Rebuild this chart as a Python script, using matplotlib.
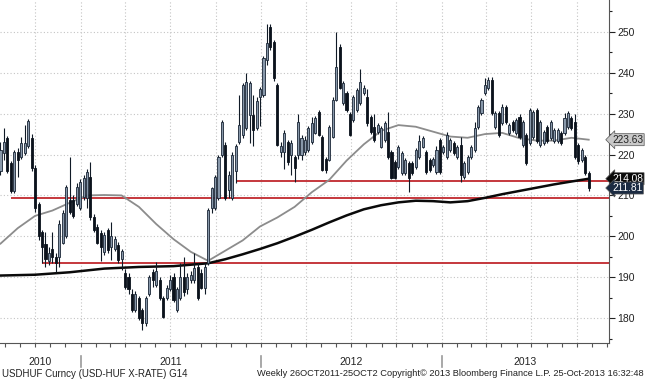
import numpy as np
import pandas as pd
import matplotlib
matplotlib.use("Agg")
import matplotlib.pyplot as plt
import matplotlib.dates as mdates
import matplotlib.transforms as mtransforms
from matplotlib.lines import Line2D

# =========================
# Weekly USDHUF candles
# =========================
first_week = "2010-07-23"

opens = [216, 220.4, 224, 218, 211, 220.6, 219.4, 220.4, 222, 224,
         216.7, 208, 201, 198, 194, 197, 195, 195, 198.4, 200,
         209, 209, 208, 207, 209.7, 209.4, 214.5, 204.7, 202.3, 200.8,
         196.2, 201.5, 197.4, 197, 197.9, 194.5, 191, 190, 186, 182,
         185, 182, 178.8, 186, 191.3, 188, 189.3, 185, 185, 187,
         190, 182, 185, 190, 187, 189.3, 189.3, 192.5, 191, 187.4,
         193.5, 206.9, 207, 209.4, 220, 222.4, 211.3, 209.4, 216, 223,
         224.8, 226.5, 229.7, 229.7, 226.5, 234, 234.6, 243.2, 251.2, 247.6,
         237, 220.6, 220.6, 223, 220, 219.4, 220, 220, 220.6, 221.1,
         223, 225.3, 230.4, 224.3, 219, 218.7, 224.3, 233.4, 246.3, 232.6,
         235, 230, 228.5, 231, 232.6, 235, 234, 229.2, 226.8, 225.5,
         221.9, 223.6, 225.5, 220.6, 218.2, 217, 215.5, 215.5, 218, 218,
         217, 219.5, 221.9, 220.7, 218.7, 217.4, 215.8, 223.6, 220.6, 219.5,
         221.1, 222.8, 219.5, 222.3, 214.6, 215.8, 219.5, 221.1, 226.8, 230.1,
         235, 236.2, 238.3, 226.8, 230.1, 227.7, 231.7, 225.2, 228, 225.2,
         229.3, 222.3, 224.8, 222.8, 224.4, 230.9, 222.3, 222.8, 226.8, 224,
         223.2, 223.2, 225.2, 225.2, 226.8, 228.9, 228, 222.3, 218.7, 219.5,
         215.5]
closes = [221, 223, 216, 211, 220.6, 218.7, 222.8, 222.8, 228.3, 216.7,
          207, 200, 197.5, 194.5, 196, 195, 193.5, 203, 205.7, 212,
          206, 205, 212, 213.3, 214.3, 215.8, 204.7, 201.5, 198.4, 197.4,
          200.3, 196.7, 200, 199.3, 194.2, 196.5, 187.6, 187, 182, 186,
          180, 178.8, 185, 190, 189.3, 191.5, 185, 180.3, 187.4, 189.3,
          184.5, 187, 190, 186.4, 190, 190.6, 192.2, 185, 187.4, 192.5,
          206.5, 211.8, 214.5, 219.5, 228, 209.4, 215, 220, 222, 227.3,
          237, 237.8, 237.5, 226, 233, 236, 243.6, 247.3, 246.3, 238.7,
          222.4, 222, 225.3, 218.2, 222.8, 216.7, 228, 224, 223.6, 226.5,
          227.7, 229, 224.8, 216.2, 216.2, 226.8, 233.4, 241.4, 236.3, 237.5,
          231, 224.8, 234, 235.8, 237.8, 236.3, 227.7, 225.5, 223.6, 227.3,
          226.5, 227.7, 219.4, 214.3, 214.3, 221.9, 220.4, 218.7, 214.3, 215.5,
          221, 223.2, 224, 215.8, 216.2, 219, 221.1, 215.8, 221.9, 224.8,
          223.6, 220.3, 221.9, 215, 217.9, 219.5, 221.9, 226.4, 231.7, 233.4,
          237, 238.3, 230.1, 230.1, 224.8, 231.7, 228, 227.2, 226, 228.5,
          224.4, 228, 217.9, 230.9, 230.5, 223.2, 228, 225.6, 223.2, 228,
          226, 226, 222.8, 228.9, 230.1, 226.4, 219.5, 218.3, 221.1, 215.5,
          211.81]
highs = [223, 226.5, 224.5, 218.5, 221, 221.5, 224.3, 227.2, 228.8, 225,
         217.5, 208.5, 201.5, 201, 197.5, 201, 196, 204, 206.5, 212.5,
         219.5, 210, 213, 214, 215, 216.5, 218.2, 205.5, 203, 201.5,
         201, 202, 203.6, 200, 198.5, 197, 192, 191, 187, 186.5,
         185.5, 182.5, 185.5, 190.5, 192, 193.8, 190, 185.5, 188, 190.5,
         191, 187.5, 193.4, 195, 191, 191.5, 195.8, 193.5, 192, 193.5,
         207, 212, 215, 220, 228.5, 223, 216, 220.5, 222.5, 234.5,
         237.5, 240, 238, 234.5, 234, 236.5, 244, 252, 252, 248,
         237.5, 223, 226, 223.5, 223.5, 220, 230, 224.8, 224.5, 227,
         229.2, 229.5, 231, 224.8, 219.5, 227.3, 234, 250, 247, 238,
         235.5, 230.5, 234.5, 236.3, 241, 237, 236, 229.7, 230, 227.8,
         227, 228.2, 230.4, 221, 218.7, 222.3, 220.8, 219.2, 218.5, 218.5,
         221.5, 224.8, 224.5, 221.2, 219.2, 219.5, 222.2, 224, 222.4, 225.5,
         224, 223.3, 222.4, 224.3, 218.4, 220, 222.4, 228, 232.2, 233.9,
         238.7, 239, 239, 230.6, 230.6, 232.4, 232.2, 227.7, 228.5, 229,
         229.8, 228.5, 225.3, 231.4, 231, 231.4, 228.5, 226.1, 227.3, 228.5,
         226.5, 226.5, 225.7, 230.1, 230.6, 229.4, 230, 222.8, 221.6, 220,
         216]
lows = [215, 218.7, 215.5, 210.5, 210.5, 214.5, 219, 220, 221.5, 216,
        206, 199, 193.5, 192.5, 193, 193.5, 191.3, 192.5, 198, 199.5,
        205.5, 204.5, 207.5, 206.5, 209, 207, 204, 201, 198, 194,
        195.5, 196, 194.2, 196.5, 193.5, 191.8, 187, 186, 181.5, 181.5,
        179.5, 177, 178, 185.5, 187.5, 187.5, 184.5, 180, 184.5, 186.5,
        184, 181.5, 184.5, 185.5, 186, 188.5, 188.5, 184.5, 187, 186,
        193, 205.7, 206.5, 209, 219.5, 209, 209.4, 209, 213, 222.5,
        224, 226, 222.7, 222, 226, 227, 234, 242, 245.5, 238,
        222, 219.5, 216.5, 217.5, 215, 213.3, 219, 218.7, 220, 220.5,
        222.5, 225, 224.5, 216, 215.5, 218.5, 224, 233, 236, 232,
        230.5, 224.5, 228, 230.5, 232, 234.5, 227, 225, 223, 225,
        221.5, 223, 219, 214, 214, 216.5, 215, 215, 210.8, 215,
        216.5, 219, 221.5, 215.3, 215.8, 217, 215.3, 215.3, 220.1, 219,
        220.6, 219.8, 219, 213.3, 214.1, 215.3, 219, 220.6, 226.3, 229.6,
        234.5, 235.7, 229.6, 226.3, 224.3, 227.2, 227.5, 224.7, 225.5, 224.7,
        223.9, 221.8, 217.4, 222.3, 223.9, 222.7, 221.8, 222.3, 222.7, 223.5,
        222.7, 222.7, 222.3, 224.7, 226.3, 225.9, 219, 217.8, 218.2, 215,
        211]

# moving averages, sampled every few weeks
ma_gray_weeks = [0, 5, 10, 15, 20, 25, 30, 35, 40, 45, 50, 55, 60, 65, 70, 75, 80, 85,
                 90, 95, 100, 105, 110, 115, 120, 125, 130, 135, 140, 145, 150, 155,
                 160, 165, 170]
ma_gray = [198.2, 202.0, 205.0, 206.3, 208.2, 210.0, 210.1, 210.0, 207.2, 203.0,
           199.3, 196.2, 194.0, 196.5, 199.0, 202.4, 204.6, 207.2, 210.8, 213.8,
           218.5, 222.5, 225.8, 227.2, 226.8, 225.6, 224.4, 224.1, 225.0, 225.3,
           224.0, 223.4, 223.4, 224.1, 223.63]
ma_black_weeks = [0, 10, 20, 30, 40, 50, 60, 65, 70, 75, 80, 85, 90, 95, 100, 105,
                  110, 115, 120, 125, 130, 135, 140, 145, 150, 155, 160, 165, 170]
ma_black = [190.4, 190.6, 191.2, 192.1, 192.5, 192.7, 193.4, 194.4, 195.6, 196.9,
            198.3, 199.9, 201.6, 203.4, 205.1, 206.6, 207.6, 208.3, 208.7, 208.6,
            208.3, 208.6, 209.4, 210.3, 211.1, 211.9, 212.7, 213.4, 214.08]

# horizontal support lines: level and the week they start
red_levels = [213.6, 209.3, 193.5]
red_start_week = [68, 3, 12]

year_labels = ["2010", "2011", "2012", "2013"]
footer_left = "USDHUF Curncy (USD-HUF X-RATE) G14"
footer_right = "Weekly 26OCT2011-25OCT2 Copyright\u00a9 2013 Bloomberg Finance L.P. 25-Oct-2013 16:32:48"

# =========================
# Figure
# =========================
plt.rcParams['font.family'] = ['Liberation Sans', 'DejaVu Sans']

dates = pd.date_range(first_week, periods=len(closes), freq="7D")
x = mdates.date2num(dates)
o = np.array(opens)
c = np.array(closes)
h = np.array(highs)
l = np.array(lows)

fig = plt.figure(figsize=(6.45, 3.81), dpi=100)
ax = fig.add_axes([0, 1 - 343 / 381, 609 / 645, 343 / 381])

x_left = x[0] - 1
x_right = x[0] + 1231
ax.set_xlim(x_left, x_right)
ax.set_ylim(173.9, 257.8)

# grid
grid_kw = dict(color="#c4c4c4", linestyle=(0, (1, 2)), linewidth=0.8)
ax.xaxis.set_major_locator(mdates.MonthLocator(bymonth=[1, 4, 7, 10]))
ax.xaxis.set_minor_locator(mdates.MonthLocator())
ax.yaxis.set_major_locator(plt.MultipleLocator(10))
ax.yaxis.set_minor_locator(plt.MultipleLocator(5))
ax.grid(True, which="major", **grid_kw)
ax.set_axisbelow(True)

# red lines
for lev, wk in zip(red_levels, red_start_week):
    ax.hlines(lev, x[wk], x_right, color="#c0282d", linewidth=1.3, zorder=2)

# moving averages
ax.plot(x[ma_gray_weeks], ma_gray, color="#8c8c8c", linewidth=1.3, zorder=3)
ax.plot(x[ma_black_weeks], ma_black, color="#0a0a0a", linewidth=1.8, zorder=3)

# candles
up = c >= o
ax.vlines(x, l, h, color="#101a26", linewidth=0.8, zorder=4)
body_bot = np.minimum(o, c)
body_h = np.maximum(np.abs(c - o), 0.35)
ax.bar(x[up], body_h[up], bottom=body_bot[up], width=4.2,
       color="#8898aa", edgecolor="#1a2636", linewidth=0.6, zorder=5)
ax.bar(x[~up], body_h[~up], bottom=body_bot[~up], width=4.2,
       color="#0b121c", edgecolor="#0b121c", linewidth=0.6, zorder=5)

# axes styling
for side in ["top", "left"]:
    ax.spines[side].set_visible(False)
ax.spines["right"].set_color("#555555")
ax.spines["bottom"].set_color("#555555")
ax.yaxis.tick_right()
ax.tick_params(axis="y", which="major", length=4, width=0.8, colors="#222222",
               labelsize=7.5, pad=2)
ax.tick_params(axis="y", which="minor", length=2.5, width=0.8, color="#222222")
ax.tick_params(axis="x", which="both", length=3, width=0.8, color="#555555",
               labelbottom=False)

# year separators and labels under the axis
year_edges = [x_left] + [mdates.date2num(pd.Timestamp(f"{y}-01-01")) for y in year_labels[1:]] + [x_right]
trans = mtransforms.blended_transform_factory(ax.transData, fig.transFigure)
for xe in year_edges[1:-1]:
    fig.add_artist(Line2D([xe, xe], [1 - 367 / 381, 1 - 356 / 381], transform=trans,
                          color="#9a9a9a", linewidth=1.2))
for i, lab in enumerate(year_labels):
    xm = (year_edges[i] + year_edges[i + 1]) / 2
    fig.text(xm, 1 - 362 / 381, lab, transform=trans, ha="center", va="center",
             fontsize=7.5, color="#222222")

# value flags on the right
ytrans = mtransforms.blended_transform_factory(ax.transAxes, ax.transData)
flags = [(ma_gray[-1], "#c8c8c8", "#222222"),
         (ma_black[-1], "#0a0a0a", "white"),
         (closes[-1], "#1b2b42", "white")]
for val, fc, tc in flags:
    ax.text(1.005, val, f"{val:.2f}", transform=ytrans, ha="left", va="center",
            fontsize=7.3, color=tc, zorder=10, clip_on=False,
            bbox=dict(boxstyle="larrow,pad=0.1", fc=fc, ec="#555555", lw=0.5))

# footer
fig.text(0.003, 1 - 374 / 381, footer_left, ha="left", va="center", fontsize=7, color="#222222")
fig.text(0.998, 1 - 374 / 381, footer_right, ha="right", va="center", fontsize=6.7, color="#222222")

fig.savefig("out.png", dpi=100, facecolor="white")
